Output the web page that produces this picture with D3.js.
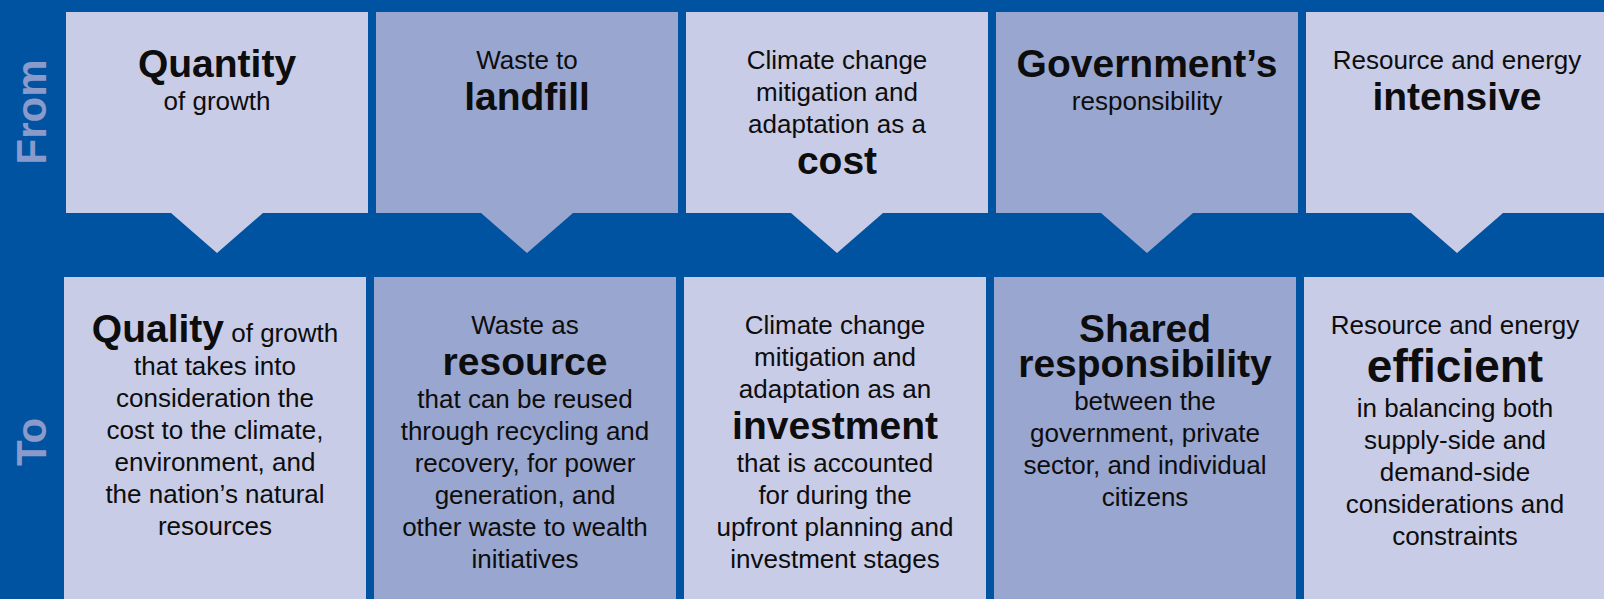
<!DOCTYPE html>
<html>
<head>
<meta charset="utf-8">
<script src="https://cdn.jsdelivr.net/npm/d3@7"></script>
<style>
  html, body { margin: 0; padding: 0; background: #0053a0; }
  svg { display: block; }
  text { font-family: "Liberation Sans", Arial, Helvetica, sans-serif; fill: #0d0d0d; }
</style>
</head>
<body>
<script>
// five shifts, "From" row on top, "To" row below
// *word* = bold, **word** = big bold
const stages = ["From", "To"];
const themes = ["growth", "waste", "climate", "responsibility", "resources"];

const fromLines = [
  ["*Quantity*", "of growth"],
  ["Waste to", "*landfill*"],
  ["Climate change", "mitigation and", "adaptation as a", "*cost*"],
  ["*Government\u2019s*", "responsibility"],
  ["Resource and energy", "*intensive*"]
];

const toLines = [
  ["*Quality* of growth", "that takes into", "consideration the", "cost to the climate,",
   "environment, and", "the nation\u2019s natural", "resources"],
  ["Waste as", "*resource*", "that can be reused", "through recycling and",
   "recovery, for power", "generation, and", "other waste to wealth", "initiatives"],
  ["Climate change", "mitigation and", "adaptation as an", "*investment*",
   "that is accounted", "for during the", "upfront planning and", "investment stages"],
  ["*Shared*", "*responsibility*", "between the", "government, private",
   "sector, and individual", "citizens"],
  ["Resource and energy", "**efficient**", "in balancing both", "supply-side and",
   "demand-side", "considerations and", "constraints"]
];

const W = 1604, H = 599;
const BLUE = "#0053a0";
const LIGHT = "#c8cce6", DARK = "#99a6cf";
const LABEL = "#8a9bcb";

const svg = d3.select("body").append("svg")
  .attr("width", W)
  .attr("height", H);

svg.append("rect").attr("width", W).attr("height", H).attr("fill", BLUE);

const x = d3.scaleBand()
  .domain(themes)
  .range([66, 1608])
  .paddingInner(8 / 310)
  .paddingOuter(0);

const top0 = 12, top1 = 213, tip = 253, half = 46;
const bot0 = 277, bot1 = H + 2;
const bottomShift = -2;

// parse "*a* b" into segments
function segments(line) {
  return line.split(/(\*\*[^*]+\*\*|\*[^*]+\*)/).filter(s => s.length).map(s => {
    if (s.startsWith("**")) return { t: s.slice(2, -2), k: "big" };
    if (s.startsWith("*")) return { t: s.slice(1, -1), k: "bold" };
    return { t: s, k: "reg" };
  });
}

const fontSize = { reg: 26, bold: 39, big: 46 };

function advance(prev, cur) {
  if (cur === "big") return 48;
  if (prev === "big") return 35;
  if (prev === "bold" && cur === "bold") return 35;
  if (prev === "reg" && cur === "bold") return 41;
  if (prev === "bold") return 33;
  return 32;
}

// one text per panel, one tspan per line
function drawLines(lines, cx, yTop) {
  const t = svg.append("text").attr("text-anchor", "middle");
  let y = null, prev = null;
  lines.forEach(line => {
    const segs = segments(line);
    const kind = segs[0].k;
    if (y === null) y = yTop + (kind === "reg" ? 57 : 65);
    else y += advance(prev, kind);
    const row = t.append("tspan").attr("x", cx).attr("y", y);
    segs.forEach(s => {
      row.append("tspan")
        .text(s.t)
        .style("font-size", fontSize[s.k] + "px")
        .style("font-weight", s.k === "reg" ? 400 : 700);
    });
    prev = kind;
  });
}

// top row with arrow tips
themes.forEach((th, i) => {
  const x0 = x(th), x1 = x0 + x.bandwidth(), cx = x0 + x.bandwidth() / 2;
  const path = d3.path();
  path.moveTo(x0, top0);
  path.lineTo(x1, top0);
  path.lineTo(x1, top1);
  path.lineTo(cx + half, top1);
  path.lineTo(cx, tip);
  path.lineTo(cx - half, top1);
  path.lineTo(x0, top1);
  path.closePath();
  svg.append("path")
    .attr("d", path.toString())
    .attr("fill", i % 2 ? DARK : LIGHT);
  drawLines(fromLines[i], cx, top0);
});

// bottom row
themes.forEach((th, i) => {
  const x0 = x(th) + bottomShift;
  const cx = x0 + x.bandwidth() / 2;
  svg.append("rect")
    .attr("x", x0)
    .attr("y", bot0)
    .attr("width", x.bandwidth())
    .attr("height", bot1 - bot0)
    .attr("fill", i % 2 ? DARK : LIGHT);
  drawLines(toLines[i], cx, bot0);
});

// side labels
const labelPos = { From: 112, To: 442 };
stages.forEach(s => {
  svg.append("text")
    .attr("transform", `translate(46,${labelPos[s]}) rotate(-90)`)
    .attr("text-anchor", "middle")
    .style("font-size", "42px")
    .style("font-weight", 700)
    .style("fill", LABEL)
    .text(s);
});
</script>
</body>
</html>
